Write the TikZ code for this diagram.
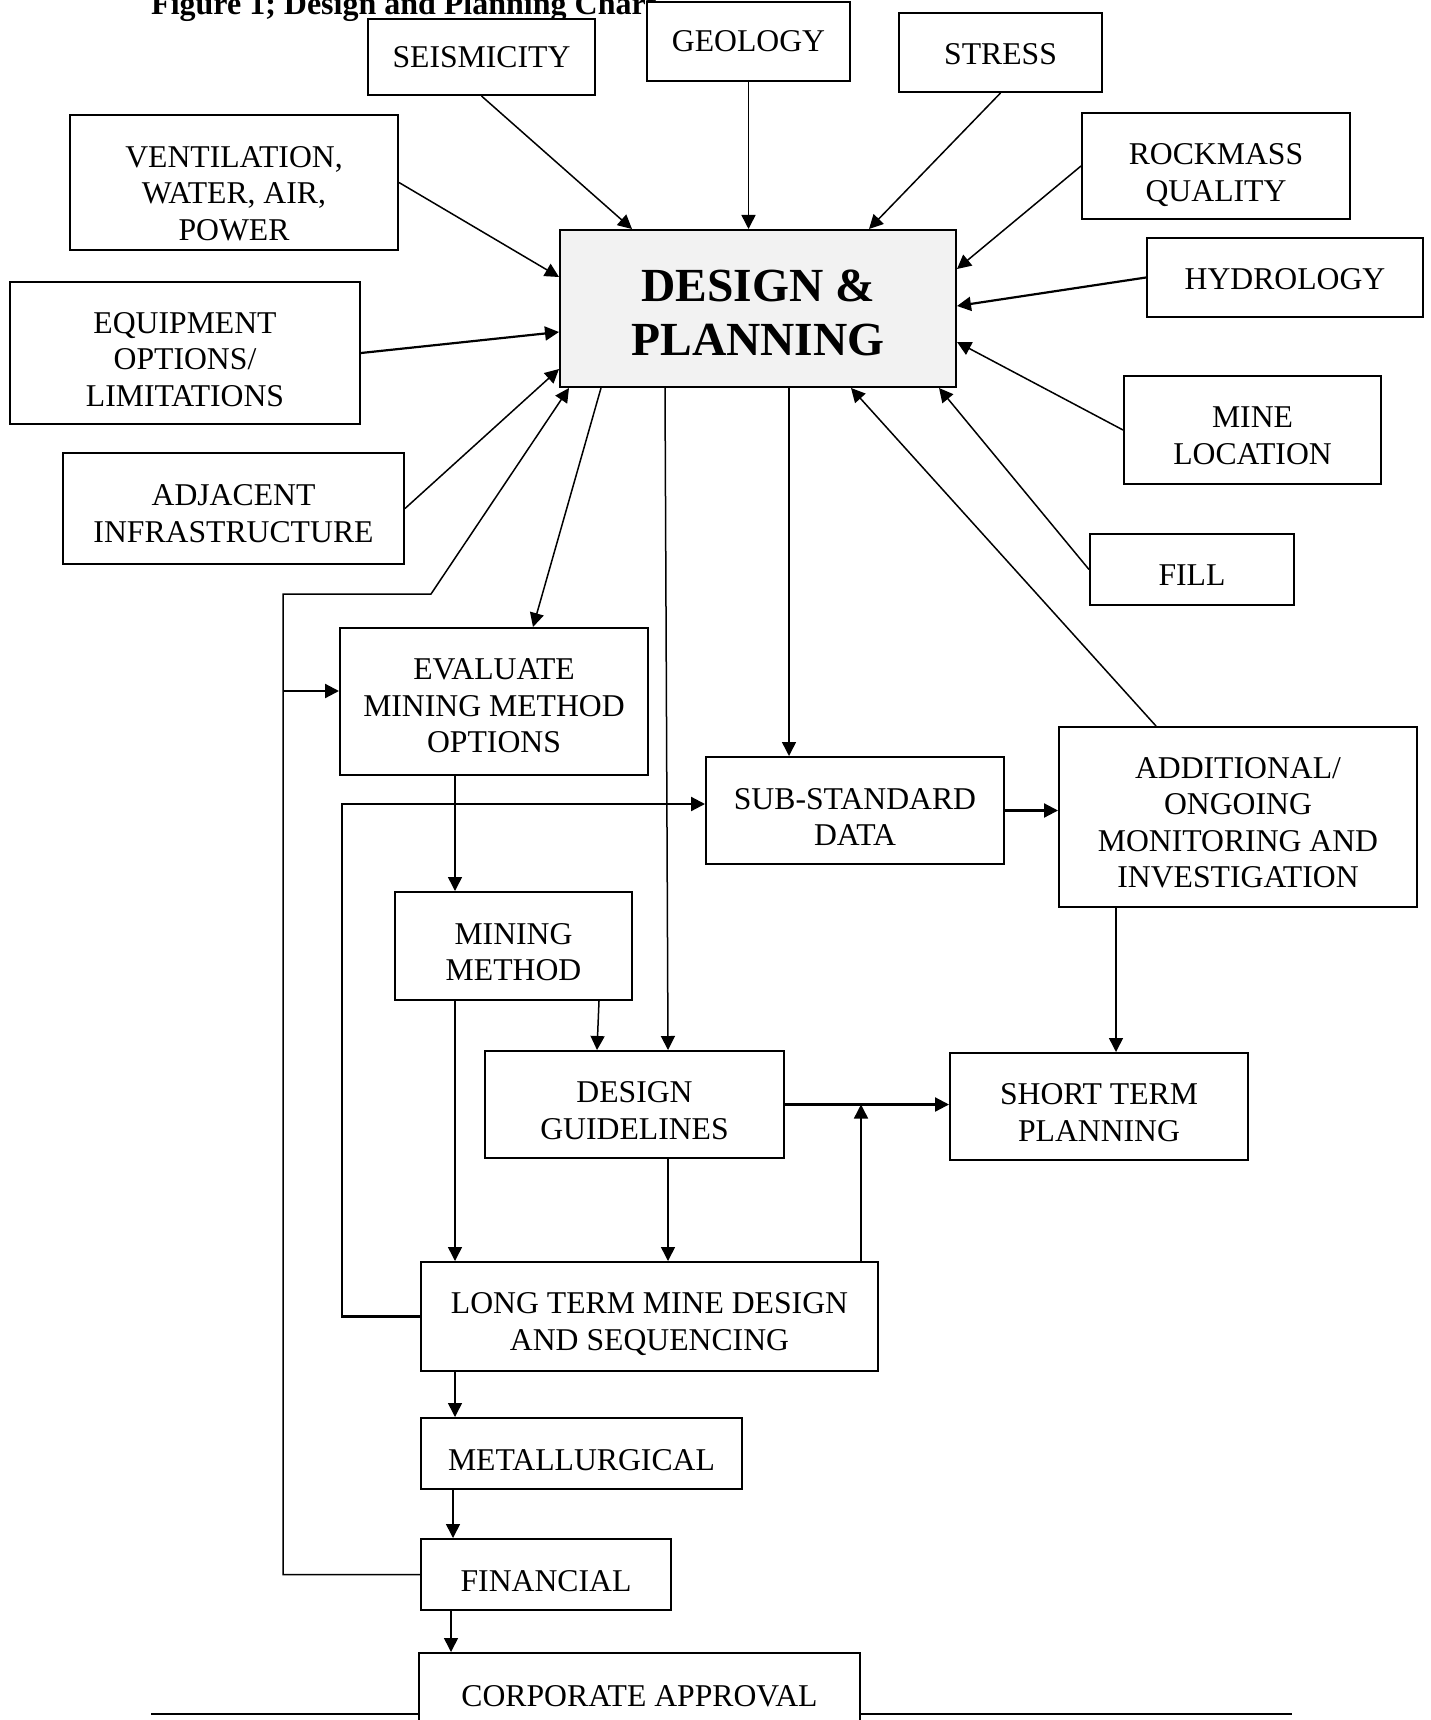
\documentclass[tikz,border=0pt]{standalone}
\usepackage{fontspec}
\setmainfont{Liberation Serif}
\usetikzlibrary{arrows.meta}
\newcommand{\sink}[1][33pt]{\rule{0pt}{#1}}

\begin{document}
\begin{tikzpicture}[x=1pt,y=-1pt,
    >={Triangle[length=14pt,width=14pt]},
    box/.style={draw,line width=2pt,fill=white,align=center,inner sep=0pt,
      font=\fontsize{31.7}{36.5}\selectfont},
    link/.style={->,line width=1.5pt},
    heavy/.style={->,line width=2.2pt}]
   \clip (0,0) rectangle (1430,1720);
   \node[anchor=base west,inner sep=0pt,font=\bfseries\fontsize{32}{36}\selectfont] (title) at (151,15) {Figure 1; Design and Planning Chart};
   \draw[line width=1.6pt] (151,1714) -- (1292,1714);

   \node[box,minimum width=227pt,minimum height=76pt] (seis) at (481.5,57) {SEISMICITY};
   \node[box,minimum width=203pt,minimum height=79pt] (geo) at (748.5,41.5) {GEOLOGY};
   \node[box,minimum width=203pt,minimum height=79pt] (stress) at (1000.5,52.5) {\sink[25pt]STRESS};
   \node[box,minimum width=328pt,minimum height=135pt] (vent) at (234,182.5) {\sink[43pt]VENTILATION,\\WATER, AIR,\\POWER};
   \node[box,minimum width=268pt,minimum height=106pt] (rock) at (1216,166) {\sink[39pt]ROCKMASS\\QUALITY};
   \node[box,fill=black!5,minimum width=396pt,minimum height=157pt,font=\bfseries\fontsize{47.5}{54}\selectfont] (dp) at (758,308.5) {\sink[41pt]DESIGN \&\\PLANNING};
   \node[box,minimum width=276pt,minimum height=79pt] (hydro) at (1285,277.5) {\sink[25pt]HYDROLOGY};
   \node[box,minimum width=350pt,minimum height=142pt] (equip) at (185,353) {\sink[34pt]EQUIPMENT\\OPTIONS/\\LIMITATIONS};
   \node[box,minimum width=257pt,minimum height=108pt] (mine) at (1252.5,430) {\sink[32pt]MINE\\LOCATION};
   \node[box,minimum width=341pt,minimum height=111pt] (adj) at (233.5,508.5) {\sink[31pt]ADJACENT\\INFRASTRUCTURE};
   \node[box,minimum width=204pt,minimum height=71pt] (fill) at (1192,569.5) {\sink[32pt]FILL};
   \node[box,minimum width=308pt,minimum height=147pt] (eval) at (494,701.5) {\sink[30pt]EVALUATE\\MINING METHOD\\OPTIONS};
   \node[box,minimum width=298pt,minimum height=107pt] (sub) at (855,810.5) {\sink[34pt]SUB-STANDARD\\DATA};
   \node[box,minimum width=358pt,minimum height=180pt] (addl) at (1238,817) {\sink[32pt]ADDITIONAL/\\ONGOING\\MONITORING AND\\INVESTIGATION};
   \node[box,minimum width=237pt,minimum height=108pt] (mm) at (513.5,946) {\sink MINING\\METHOD};
   \node[box,minimum width=299pt,minimum height=107pt] (dg) at (634.5,1104.5) {\sink DESIGN\\GUIDELINES};
   \node[box,minimum width=298pt,minimum height=107pt] (st) at (1099,1106.5) {\sink SHORT TERM\\PLANNING};
   \node[box,minimum width=457pt,minimum height=109pt] (lt) at (649.5,1316.5) {\sink[36pt]LONG TERM MINE DESIGN\\AND SEQUENCING};
   \node[box,minimum width=321pt,minimum height=71pt] (met) at (581.5,1453.5) {\sink[34pt]METALLURGICAL};
   \node[box,minimum width=250pt,minimum height=71pt] (fin) at (546,1574.5) {\sink[34pt]FINANCIAL};
   \node[box,minimum width=441pt,minimum height=82pt] (corp) at (639.5,1694) {\sink[25pt]CORPORATE APPROVAL};

   \coordinate (bend) at (283,594);
   \coordinate (turn) at (431,594);
   \coordinate (split) at (283,691);
   \coordinate (back) at (342,804);
   \path ([xshift=-18pt]lt.north east) coordinate (rise);

   \draw[link] (seis.south) -- ([xshift=73pt]dp.north west);
   \draw[link] (geo.south) -- (geo.south |- dp.north);
   \draw[link] (stress.south) -- ([xshift=-88pt]dp.north east);
   \draw[link] (vent.east) -- ([yshift=-48pt]dp.north west);
   \draw[link] (rock.west) -- ([yshift=-40pt]dp.north east);
   \draw[heavy] (hydro.west) -- ([yshift=-77pt]dp.north east);
   \draw[heavy] (equip.east) -- ([yshift=-103pt]dp.north west);
   \draw[link] (mine.west) -- ([yshift=-113pt]dp.north east);
   \draw[link] (adj.east) -- ([yshift=-140pt]dp.north west);
   \draw[link] (fill.west) -- ([xshift=-18pt]dp.south east);
   \draw[link] ([xshift=98pt]addl.north west) -- ([xshift=-106pt]dp.south east);
   \draw[link] ([xshift=42pt]dp.south west) -- ([xshift=194pt]eval.north west);
   \draw[link] (fin.west) -| (bend) -- (turn) -- ([xshift=10pt]dp.south west);
   \draw[heavy] (split) -- (split -| eval.west);
   \draw[link] ([xshift=106pt]dp.south west) -- ([xshift=184pt]dg.north west);
   \draw[link] ([xshift=230pt]dp.south west) -- ([xshift=84pt]sub.north west);
   \draw[link] ([xshift=116pt]eval.south west) -- ([xshift=61pt]mm.north west);
   \draw[heavy] (lt.west) -| (back) -- (back -| sub.west);
   \draw[heavy] (sub.east) -- (sub.east -| addl.west);
   \draw[link] ([xshift=58pt]addl.south west) -- ([xshift=167pt]st.north west);
   \draw[link] ([xshift=-34pt]mm.south east) -- ([xshift=113pt]dg.north west);
   \draw[link] ([xshift=61pt]mm.south west) -- ([xshift=35pt]lt.north west);
   \draw[heavy] (dg.east) -- (dg.east -| st.west);
   \draw[link] (rise) -- (rise |- dg.east);
   \draw[link] ([xshift=184pt]dg.south west) -- ([xshift=248pt]lt.north west);
   \draw[link] ([xshift=35pt]lt.south west) -- ([xshift=35pt]met.north west);
   \draw[link] ([xshift=33pt]met.south west) -- ([xshift=33pt]fin.north west);
   \draw[link] ([xshift=31pt]fin.south west) -- ([xshift=33pt]corp.north west);
\end{tikzpicture}
\end{document}
